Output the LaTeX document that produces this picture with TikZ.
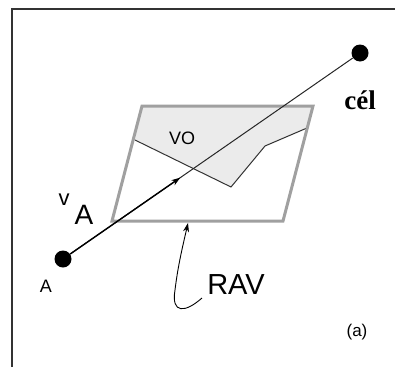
\documentclass[tikz,border=0pt]{standalone}
\usepackage{fontspec}
\setmainfont{Liberation Sans}
\newfontfamily\celfont{Liberation Serif}
\usetikzlibrary{arrows.meta,calc}

\begin{document}
\begin{tikzpicture}[x=1pt, y=-1pt, >={Stealth[length=9pt, width=6pt]},
    dot/.style={circle, fill=black, inner sep=0pt, minimum size=17pt},
    lbl/.style={inner sep=0pt, anchor=center}]

  % Colors
  \definecolor{framecolor}{HTML}{333333}
  \definecolor{regioncolor}{HTML}{EBEBEB}
  \definecolor{edgecolor}{HTML}{A0A0A0}

  \useasboundingbox (0,0) rectangle (395,367);

  % Frame (only left and top are visible)
  \draw[framecolor, line width=1.8pt] (12,367) -- (12,9) -- (395,9);

  % Shaded VO region inside the parallelogram
  \fill[regioncolor] (142,106) -- (313,106) -- (307,128) -- (265,146)
    -- (231,187) -- (135,140) -- cycle;
  \draw[black!80, line width=1pt] (135,140) -- (231,187) -- (265,146) -- (307,128);

  % RAV parallelogram
  \draw[edgecolor, line width=3pt, line join=miter] (142,106) -- (313,106)
    -- (283,221) -- (112,221) -- cycle;

  % Agent and goal
  \node[dot] (a) at (63,259) {};
  \node[dot] (cel) at (360,53) {};
  \draw[black!85, line width=1pt] (a) -- (cel);
  \coordinate (vtip) at ($(a)!0.395!(cel)$);
  \draw[->, line width=1.4pt] (a) -- (vtip);

  % Labels
  \node[lbl, font=\fontsize{18}{18}\selectfont] (alab) at (46,286) {A};
  \node[lbl, font=\fontsize{22}{22}\selectfont] (vlab) at (64,200) {v};
  \node[lbl, font=\fontsize{28}{28}\selectfont] (valab) at (84,215) {A};
  \node[lbl, font=\fontsize{18}{18}\selectfont] (vo) at (182,138) {VO};
  \node[lbl, font=\celfont\bfseries\fontsize{27}{27}\selectfont] (cellab) at (360,100) {cél};
  \node[lbl, font=\fontsize{29}{29}\selectfont] (rav) at (236,285) {RAV};
  \node[lbl, font=\fontsize{17}{17}\selectfont] (sub) at (357,332) {(a)};

  % Pointer from RAV label to the region
  \coordinate (ravstart) at (202,298);
  \coordinate (ravtip) at (188,223);
  \draw[->, line width=0.9pt] (ravstart) .. controls (185,313) and (171,314) .. (175,290)
    .. controls (178,265) and (183,245) .. (ravtip);

\end{tikzpicture}
\end{document}
